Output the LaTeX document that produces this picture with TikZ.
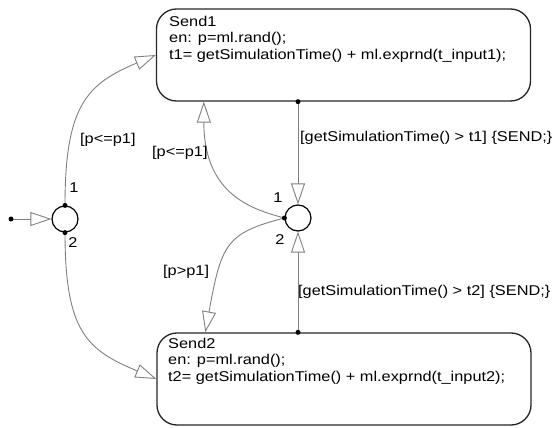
\documentclass[tikz,border=0pt]{standalone}
\usepackage{fontspec}
\setmainfont{Liberation Sans}[FakeStretch=1.15]
\usetikzlibrary{arrows.meta,calc}
\begin{document}
\begin{tikzpicture}[x=1pt,y=-1pt,
  font=\fontsize{14.2}{16.5}\selectfont,
  state/.style={draw=black!85, line width=1.3pt, rounded corners=20pt,
    minimum width=374pt, minimum height=92pt, inner sep=0pt},
  junction/.style={circle, draw=black, line width=1.2pt, fill=white,
    minimum size=26pt, inner sep=0pt},
  trans/.style={draw=black!50, line width=0.9pt,
    -{Triangle[length=21pt,width=14pt,fill=white,line width=0.9pt]}},
  srcdot/.style={circle, fill=black, minimum size=5pt, inner sep=0pt},
  lbl/.style={inner sep=0pt, anchor=west},
  num/.style={inner sep=0pt},
  code/.style={align=left, anchor=base west, inner sep=0pt}
]
\useasboundingbox (0,0) rectangle (555,428);

% states (text blocks are placed by the baseline of their last line)
\node[state] (s1) at (343.5,55) {};
\node[state] (s2) at (344,379) {};
\node[code] (s1txt) at (169,59.5) {Send1\\en: p=ml.rand();\\t1= getSimulationTime() + ml.exprnd(t\_input1);};
\node[code] (s2txt) at (168,381) {Send2\\en: p=ml.rand();\\t2= getSimulationTime() + ml.exprnd(t\_input2);};

% junctions
\node[junction] (j1) at (65,219) {};
\node[junction] (j2) at (298,218) {};
\coordinate (start) at (11,219);

% default transition
\draw[trans] (start) -- (j1.west);

% branches of the left junction
\draw[trans] (j1.north) .. controls +(0,-100) and +(-69,29) .. (s1.west);
\draw[trans] (j1.south) .. controls +(0,100) and +(-69,-29) .. (s2.west);

% transitions into the right junction
\draw[trans] (s1.south -| j2) -- (j2.north);
\draw[trans] (s2.north -| j2) -- (j2.south);

% branches of the right junction
\draw[trans] (j2.west) .. controls +(-29,-8) and +(0,95) .. ([xshift=48pt]s1.south west);
\draw[trans] (j2.west) .. controls +(-58,15) and +(16,-89) .. ([xshift=49pt]s2.north west);

% transition source dots
\node[srcdot] (d0) at (start) {};
\node[srcdot] (d1) at (j1.north) {};
\node[srcdot] (d2) at (j1.south) {};
\node[srcdot] (d3) at (s1.south -| j2) {};
\node[srcdot] (d4) at (s2.north -| j2) {};
\node[srcdot] (d5) at (j2.west) {};

% transition labels
\node[lbl] (l1) at (80,140) {[p<=p1]};
\node[lbl] (l2) at (152,153) {[p<=p1]};
\node[lbl] (l3) at (300,138) {[getSimulationTime() > t1] \{SEND;\}};
\node[lbl] (l4) at (298,292) {[getSimulationTime() > t2] \{SEND;\}};
\node[lbl] (l5) at (163,272) {[p>p1]};

% execution order numbers
\node[num] (o1) at (74,188) {1};
\node[num] (o2) at (73,243) {2};
\node[num] (o3) at (278,198) {1};
\node[num] (o4) at (280,240) {2};
\end{tikzpicture}
\end{document}
